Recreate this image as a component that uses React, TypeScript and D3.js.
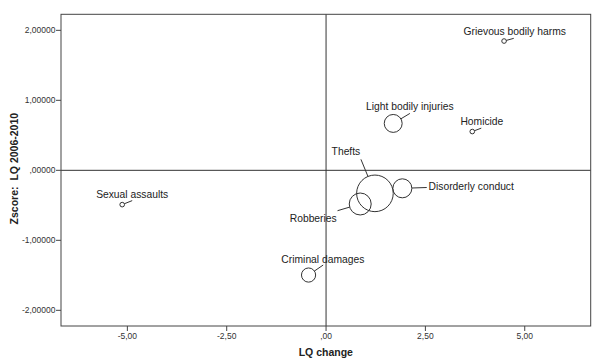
import React from "react";
import * as d3 from "d3";

// ---- data ----
const crimes = [
  "Grievous bodily harms",
  "Light bodily injuries",
  "Homicide",
  "Thefts",
  "Disorderly conduct",
  "Robberies",
  "Criminal damages",
  "Sexual assaults",
];
const lqChange = [4.48, 1.69, 3.68, 1.23, 1.92, 0.86, -0.44, -5.13];
const zscoreLQ = [1.847, 0.67, 0.554, -0.329, -0.257, -0.481, -1.496, -0.49];
const bubbleSize = [1.6, 24, 1.6, 100, 27, 36, 15, 1.6];
const xTicks = [-5, -2.5, 0, 2.5, 5];
const yTicks = [2, 1, 0, -1, -2];

// ---- layout (label placement, relative to the bubble centre in px) ----
const labelOffset: [number, number][] = [
  [10.7, -6],
  [16.7, -13.3],
  [9.6, -6.7],
  [-29, -38],
  [68.9, 1.7],
  [-47, 18],
  [14.3, -11.7],
  [10, -6.4],
];
const leaderEnd: [number, number][] = [
  [9.7, -2.7],
  [16.7, -10],
  [9, -3.4],
  [-14, -34],
  [24.4, -0.8],
  [-22.7, 6.7],
  [14.6, -10],
  [10, -4],
];

const W = 594;
const H = 362;
const L = 61;
const R = 590.7;
const T = 14.3;
const B = 326;

const locale = d3.formatLocale({
  decimal: ",",
  thousands: ".",
  grouping: [3],
  currency: ["", ""],
  minus: "-",
});
const fmtX = (v: number) => locale.format(".2f")(v).replace(/^(-?)0,/, "$1,");
const fmtY = (v: number) => locale.format(".5f")(v).replace(/^(-?)0,/, "$1,");

export default function App() {
  const x = d3.scaleLinear().domain([-6.67, 6.66]).range([L, R]);
  const y = d3.scaleLinear().domain([-2.224, 2.229]).range([B, T]);
  const r = d3.scaleSqrt().domain([0, 100]).range([0, 18.3]);
  const font = "'Liberation Sans', Arial, sans-serif";

  return (
    <svg
      width={W}
      height={H}
      style={{ position: "absolute", left: 0, top: 0, background: "#fff" }}
      fontFamily={font}
    >
      <rect x={0} y={0} width={W} height={H} fill="#fff" />
      {/* reference lines */}
      <line x1={x(0)} x2={x(0)} y1={T} y2={B} stroke="#333" strokeWidth={1} />
      <line x1={L} x2={R} y1={y(0)} y2={y(0)} stroke="#333" strokeWidth={1} />
      {/* frame */}
      <rect x={L} y={T} width={R - L} height={B - T} fill="none" stroke="#444" strokeWidth={1} />
      {/* y ticks */}
      {yTicks.map((t) => (
        <g key={"y" + t}>
          <line x1={L - 5} x2={L} y1={y(t)} y2={y(t)} stroke="#444" />
          <text x={L - 5.5} y={y(t) + 3} fontSize={8.5} textAnchor="end" fill="#333">
            {fmtY(t)}
          </text>
        </g>
      ))}
      {/* x ticks */}
      {xTicks.map((t) => (
        <g key={"x" + t}>
          <line x1={x(t)} x2={x(t)} y1={B} y2={B + 5} stroke="#444" />
          <text x={x(t)} y={B + 13} fontSize={8.5} textAnchor="middle" fill="#333">
            {fmtX(t)}
          </text>
        </g>
      ))}
      {/* axis titles */}
      <text
        x={(L + R) / 2}
        y={355.5}
        fontSize={10.5}
        fontWeight="bold"
        textAnchor="middle"
        fill="#222"
      >
        LQ change
      </text>
      <text
        transform={`translate(18,${(T + B) / 2 - 1.5}) rotate(-90)`}
        fontSize={10.5}
        fontWeight="bold"
        textAnchor="middle"
        fill="#222"
        style={{ whiteSpace: "pre" }}
      >
        {"Zscore:  LQ 2006-2010"}
      </text>
      {/* bubbles */}
      {crimes.map((c, i) => {
        const cx = x(lqChange[i]);
        const cy = y(zscoreLQ[i]);
        const rr = r(bubbleSize[i]);
        const [ex, ey] = leaderEnd[i];
        const len = Math.hypot(ex, ey);
        const sx = cx + (ex / len) * rr;
        const sy = cy + (ey / len) * rr;
        return (
          <g key={c}>
            <circle cx={cx} cy={cy} r={rr} fill="none" stroke="#333" strokeWidth={1} />
            <line x1={sx} y1={sy} x2={cx + ex} y2={cy + ey} stroke="#333" strokeWidth={1} />
          </g>
        );
      })}
      {crimes.map((c, i) => {
        const cx = x(lqChange[i]);
        const cy = y(zscoreLQ[i]);
        const [dx, dy] = labelOffset[i];
        return (
          <text
            key={"l" + c}
            x={cx + dx}
            y={cy + dy}
            fontSize={10.3}
            textAnchor="middle"
            fill="#222"
          >
            {c}
          </text>
        );
      })}
    </svg>
  );
}
